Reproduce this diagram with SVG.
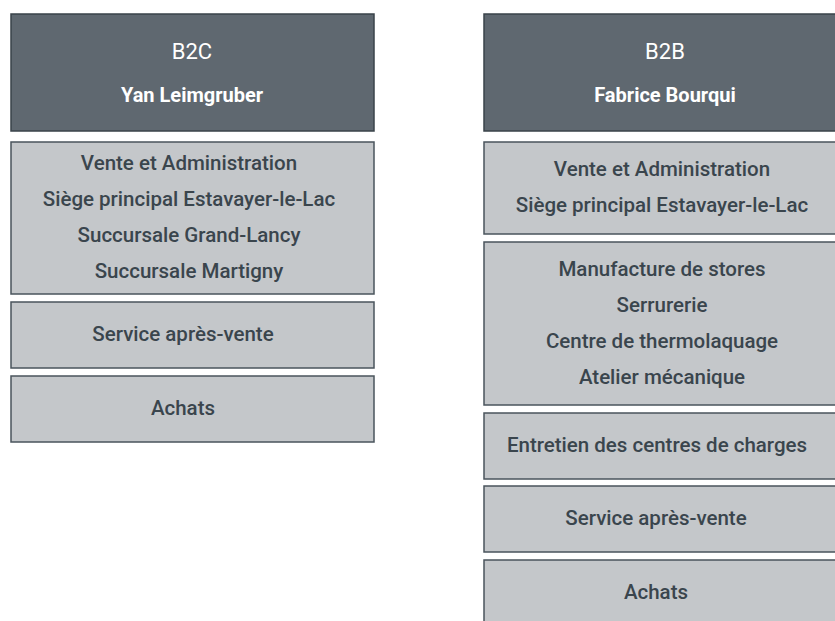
<svg xmlns="http://www.w3.org/2000/svg" width="835" height="621" viewBox="0 0 835 621">
<style>
.hd{fill:#5f6870;stroke:#3a434a;stroke-width:1.5}
.bx{fill:#c4c7ca;stroke:#4a545c;stroke-width:1.5}
.t1{font-family:Roboto,"Liberation Sans",sans-serif;font-size:22px;fill:#ffffff;text-anchor:middle}
.t2{font-family:Roboto,"Liberation Sans",sans-serif;font-size:20px;font-weight:bold;fill:#ffffff;text-anchor:middle}
.tb{font-family:Roboto,"Liberation Sans",sans-serif;font-size:20.5px;font-weight:500;fill:#3a454d;text-anchor:middle}
</style>
<rect width="835" height="621" fill="#ffffff"/>
<g id="b2c-head"><rect class="hd" x="11" y="14" width="363" height="117"/><text class="t1" x="192" y="59">B2C</text><text class="t2" x="192" y="102">Yan Leimgruber</text></g>
<g id="b2c-vente"><rect class="bx" x="11" y="142" width="363" height="152"/>
<text class="tb" x="189" y="170">Vente et Administration</text>
<text class="tb" x="189" y="206">Siège principal Estavayer-le-Lac</text>
<text class="tb" x="189" y="242">Succursale Grand-Lancy</text>
<text class="tb" x="189" y="278">Succursale Martigny</text></g>
<g id="b2c-sav"><rect class="bx" x="11" y="302" width="363" height="66"/><text class="tb" x="183" y="341">Service après-vente</text></g>
<g id="b2c-achats"><rect class="bx" x="11" y="376" width="363" height="66"/><text class="tb" x="183" y="415">Achats</text></g>
<g id="b2b-head"><rect class="hd" x="484" y="14" width="362" height="117"/><text class="t1" x="665" y="59">B2B</text><text class="t2" x="665" y="102">Fabrice Bourqui</text></g>
<g id="b2b-vente"><rect class="bx" x="484" y="142" width="362" height="92"/>
<text class="tb" x="662" y="176">Vente et Administration</text>
<text class="tb" x="662" y="212">Siège principal Estavayer-le-Lac</text></g>
<g id="b2b-manu"><rect class="bx" x="484" y="242" width="362" height="163"/>
<text class="tb" x="662" y="276">Manufacture de stores</text>
<text class="tb" x="662" y="312">Serrurerie</text>
<text class="tb" x="662" y="348">Centre de thermolaquage</text>
<text class="tb" x="662" y="384">Atelier mécanique</text></g>
<g id="b2b-entretien"><rect class="bx" x="484" y="413" width="362" height="66"/><text class="tb" x="657" y="452">Entretien des centres de charges</text></g>
<g id="b2b-sav"><rect class="bx" x="484" y="486" width="362" height="66"/><text class="tb" x="656" y="525">Service après-vente</text></g>
<g id="b2b-achats"><rect class="bx" x="484" y="560" width="362" height="70"/><text class="tb" x="656" y="599">Achats</text></g>
<g id="connectors"/>
</svg>
